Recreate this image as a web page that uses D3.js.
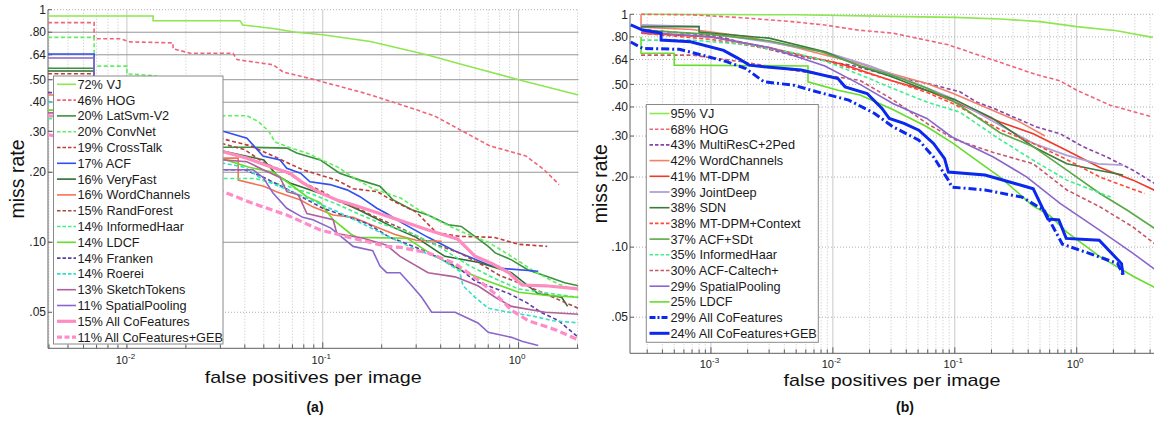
<!DOCTYPE html>
<html><head><meta charset="utf-8">
<script src="https://cdn.jsdelivr.net/npm/d3@7"></script>
<style>body{margin:0;background:#fff}svg{display:block}text{font-family:"Liberation Sans",Arial,sans-serif}</style>
</head><body><svg id="c" width="1156" height="421"></svg>
<script>
// ---------------- DATA ----------------
const yTicks = [1, 0.8, 0.64, 0.5, 0.4, 0.3, 0.2, 0.1, 0.05];
const yTickLabels = ["1", ".80", ".64", ".50", ".40", ".30", ".20", ".10", ".05"];
const xTicksA = [0.01, 0.1, 1];
const xTickExpA = ["-2", "-1", "0"];
const xTicksB = [0.001, 0.01, 0.1, 1];
const xTickExpB = ["-3", "-2", "-1", "0"];

const labelsA = ["72% VJ","46% HOG","20% LatSvm-V2","20% ConvNet","19% CrossTalk","17% ACF","16% VeryFast","16% WordChannels","15% RandForest","14% InformedHaar","14% LDCF","14% Franken","14% Roerei","13% SketchTokens","11% SpatialPooling","15% All CoFeatures","11% All CoFeatures+GEB"];
const labelsB = ["95% VJ","68% HOG","43% MultiResC+2Ped","42% WordChannels","41% MT-DPM","39% JointDeep","38% SDN","38% MT-DPM+Context","37% ACF+SDt","35% InformedHaar","30% ACF-Caltech+","29% SpatialPooling","25% LDCF","29% All CoFeatures","24% All CoFeatures+GEB"];

// panel (a): [fppi, miss rate]
const A_VJ = [[0.00395,0.94],[0.0136,0.94],[0.0136,0.897],[0.0378,0.897],[0.039,0.86],[0.0557,0.83],[0.073,0.80],[0.1,0.78],[0.175,0.73],[0.34,0.64],[0.52,0.58],[1.0,0.50],[2.02,0.43]];
const A_HOG = [[0.00395,0.88],[0.0068,0.88],[0.0068,0.75],[0.0092,0.75],[0.0104,0.727],[0.0172,0.72],[0.0172,0.68],[0.021,0.65],[0.0348,0.65],[0.0365,0.61],[0.0557,0.58],[0.0627,0.54],[0.091,0.50],[0.16,0.44],[0.23,0.40],[0.37,0.35],[0.52,0.30],[0.71,0.26],[1.09,0.235],[1.35,0.205],[1.61,0.177]];
const A_LatSvm = [[0.00395,0.56],[0.0068,0.56],[0.0068,0.40],[0.031,0.256],[0.044,0.256],[0.0655,0.254],[0.0736,0.242],[0.097,0.226],[0.122,0.198],[0.155,0.185],[0.196,0.174],[0.229,0.152],[0.285,0.138],[0.345,0.131],[0.437,0.119],[0.51,0.117],[0.70,0.096],[0.76,0.09],[0.92,0.084],[1.12,0.076],[1.41,0.071],[1.72,0.067],[2.02,0.065]];
const A_ConvNet = [[0.00395,0.76],[0.0068,0.76],[0.0068,0.572],[0.01,0.572],[0.01,0.53],[0.014,0.52],[0.031,0.35],[0.041,0.35],[0.047,0.33],[0.053,0.30],[0.057,0.27],[0.068,0.255],[0.085,0.24],[0.1,0.225],[0.12,0.21],[0.143,0.19],[0.18,0.17],[0.25,0.155],[0.3,0.14],[0.38,0.125],[0.5,0.112],[0.7,0.10],[0.9,0.088],[1.2,0.075],[1.6,0.066],[2.02,0.062]];
const A_CrossTalk = [[0.00395,0.53],[0.0068,0.53],[0.0068,0.42],[0.03,0.28],[0.0426,0.26],[0.0557,0.235],[0.079,0.205],[0.118,0.185],[0.143,0.17],[0.19,0.165],[0.23,0.15],[0.3,0.135],[0.38,0.11],[0.5,0.106],[0.75,0.105],[1.0,0.098],[1.4,0.096]];
const A_ACF = [[0.00395,0.645],[0.0068,0.645],[0.0068,0.45],[0.031,0.30],[0.041,0.28],[0.0495,0.235],[0.0605,0.226],[0.0655,0.208],[0.077,0.198],[0.086,0.182],[0.109,0.177],[0.133,0.168],[0.155,0.157],[0.189,0.14],[0.212,0.133],[0.25,0.122],[0.345,0.105],[0.47,0.092],[0.7,0.08],[0.85,0.077],[1.26,0.075]];
const A_VeryFast = [[0.00395,0.545],[0.0068,0.545],[0.0068,0.40],[0.03,0.248],[0.05,0.226],[0.058,0.195],[0.068,0.18],[0.109,0.157],[0.155,0.137],[0.234,0.115],[0.3,0.105],[0.42,0.087],[0.62,0.082],[0.92,0.074],[1.26,0.06],[1.66,0.058],[1.78,0.053]];
const A_WordChannels = [[0.00395,0.43],[0.0068,0.43],[0.0068,0.33],[0.031,0.23],[0.037,0.23],[0.037,0.185],[0.05,0.174],[0.058,0.165],[0.077,0.152],[0.089,0.142],[0.113,0.131],[0.143,0.128],[0.18,0.118],[0.234,0.108],[0.3,0.102],[0.405,0.101]];
const A_RandForest = [[0.00395,0.40],[0.0068,0.40],[0.0068,0.33],[0.031,0.265],[0.04,0.25],[0.05,0.22],[0.065,0.20],[0.08,0.18],[0.1,0.165],[0.12,0.15],[0.15,0.14],[0.18,0.13],[0.25,0.115],[0.35,0.10],[0.5,0.09],[0.65,0.08],[0.8,0.072],[1.1,0.065],[1.5,0.058],[2.02,0.052]];
const A_InformedHaar = [[0.00395,0.34],[0.0068,0.34],[0.0068,0.28],[0.031,0.188],[0.045,0.188],[0.065,0.175],[0.09,0.16],[0.12,0.145],[0.16,0.13],[0.2,0.12],[0.28,0.11],[0.4,0.095],[0.55,0.08],[0.75,0.07],[1.0,0.063],[1.5,0.06],[2.02,0.058]];
const A_LDCF = [[0.00395,0.37],[0.0068,0.37],[0.0068,0.30],[0.03,0.23],[0.042,0.21],[0.056,0.2],[0.07,0.175],[0.083,0.157],[0.097,0.148],[0.113,0.125],[0.14,0.108],[0.15,0.105],[0.27,0.104],[0.35,0.09],[0.52,0.075],[0.7,0.068],[1.0,0.061],[1.4,0.059],[2.02,0.058]];
const A_Franken = [[0.00395,0.44],[0.0068,0.44],[0.0068,0.33],[0.03,0.205],[0.04,0.205],[0.05,0.19],[0.065,0.17],[0.08,0.155],[0.1,0.14],[0.13,0.13],[0.17,0.12],[0.22,0.105],[0.3,0.095],[0.4,0.085],[0.5,0.077],[0.6,0.068],[0.7,0.065],[0.9,0.06],[1.1,0.055],[1.3,0.05],[1.6,0.046],[2.02,0.039]];
const A_Roerei = [[0.00395,0.40],[0.0068,0.40],[0.0068,0.32],[0.03,0.22],[0.04,0.21],[0.05,0.185],[0.07,0.165],[0.09,0.15],[0.12,0.135],[0.16,0.12],[0.22,0.105],[0.3,0.093],[0.4,0.085],[0.5,0.075],[0.52,0.065],[0.6,0.058],[0.7,0.052],[0.9,0.05],[1.2,0.048],[1.5,0.046],[2.02,0.045]];
const A_SketchTokens = [[0.00395,0.36],[0.0068,0.36],[0.0068,0.30],[0.031,0.226],[0.041,0.222],[0.0496,0.205],[0.0605,0.19],[0.0655,0.165],[0.075,0.16],[0.083,0.133],[0.113,0.125],[0.118,0.109],[0.161,0.104],[0.212,0.097],[0.248,0.087],[0.345,0.074],[0.474,0.071],[0.62,0.065],[0.76,0.058],[0.92,0.053],[1.37,0.05],[2.02,0.049]];
const A_SpatialPooling = [[0.00395,0.62],[0.0068,0.62],[0.0068,0.38],[0.031,0.205],[0.044,0.205],[0.0496,0.19],[0.0557,0.163],[0.0655,0.14],[0.079,0.128],[0.089,0.125],[0.11,0.115],[0.143,0.096],[0.18,0.092],[0.196,0.079],[0.212,0.074],[0.248,0.074],[0.285,0.065],[0.32,0.058],[0.36,0.05],[0.474,0.05],[0.62,0.045],[0.70,0.041],[0.92,0.039],[1.04,0.0375],[1.26,0.036]];
const A_AllCo = [[0.00395,0.35],[0.0068,0.34],[0.01,0.32],[0.02,0.28],[0.031,0.245],[0.041,0.23],[0.054,0.211],[0.068,0.198],[0.079,0.18],[0.097,0.163],[0.118,0.152],[0.143,0.145],[0.18,0.136],[0.229,0.127],[0.345,0.113],[0.49,0.103],[0.60,0.087],[0.73,0.081],[0.89,0.074],[1.04,0.0655],[1.37,0.065],[2.02,0.063]];
const A_AllCoGEB = [[0.00395,0.29],[0.01,0.25],[0.02,0.195],[0.031,0.165],[0.044,0.147],[0.0655,0.131],[0.097,0.113],[0.143,0.104],[0.212,0.096],[0.25,0.095],[0.345,0.09],[0.474,0.081],[0.62,0.069],[0.76,0.06],[0.92,0.051],[1.12,0.046],[1.55,0.042],[2.02,0.038]];

// panel (b)
const B_VJ = [[2.67e-4,1.0],[0.005,0.995],[0.03,0.98],[0.1,0.97],[0.235,0.955],[0.5,0.93],[1.0,0.885],[2.13,0.85],[4.2,0.796]];
const B_HOG = [[2.67e-4,1.0],[6.95e-4,0.995],[1.79e-3,0.967],[4.6e-3,0.93],[8.6e-3,0.9],[0.0159,0.856],[0.031,0.83],[0.088,0.74],[0.207,0.636],[0.47,0.55],[0.73,0.518],[1.0,0.472],[1.88,0.407],[4.12,0.363]];
const B_MultiResC = [[2.67e-4,0.86],[1.08e-3,0.81],[4.6e-3,0.668],[6.8e-3,0.646],[0.015,0.60],[0.031,0.54],[0.059,0.505],[0.11,0.465],[0.151,0.42],[0.207,0.395],[0.322,0.357],[0.47,0.328],[0.73,0.307],[1.13,0.27],[1.76,0.244],[2.9,0.214],[4.4,0.187]];
const B_WordChannels = [[2.67e-4,1.0],[2.67e-4,0.88],[7e-4,0.86],[2e-3,0.80],[5e-3,0.72],[8.6e-3,0.668],[0.0165,0.615],[0.03,0.557],[0.059,0.505],[0.097,0.457],[0.151,0.414],[0.235,0.375],[0.34,0.345],[0.55,0.30]];
const B_MTDPM = [[2.67e-4,0.83],[1e-3,0.80],[3e-3,0.72],[0.006,0.66],[0.012,0.61],[0.03,0.52],[0.06,0.47],[0.1,0.42],[0.235,0.345],[0.44,0.307],[0.83,0.26],[1.55,0.22],[2.9,0.194],[4.4,0.175]];
const B_JointDeep = [[2.67e-4,0.90],[8e-4,0.885],[8e-4,0.84],[3e-3,0.76],[8.6e-3,0.69],[0.02,0.6],[0.05,0.5],[0.1,0.43],[0.2,0.35],[0.44,0.279],[0.83,0.248],[1.5,0.228],[2.4,0.225]];
const B_SDN = [[2.67e-4,0.885],[8e-4,0.885],[8e-4,0.84],[3e-3,0.79],[8.6e-3,0.69],[0.0165,0.6],[0.03,0.54],[0.06,0.47],[0.1,0.43],[0.2,0.36],[0.44,0.27],[0.83,0.228],[1.5,0.214],[2.4,0.204]];
const B_MTDPMCtx = [[2.67e-4,0.83],[1e-3,0.78],[3e-3,0.71],[0.008,0.64],[0.015,0.58],[0.03,0.52],[0.06,0.46],[0.1,0.41],[0.235,0.32],[0.44,0.279],[0.8,0.24],[1.55,0.2],[3.6,0.17]];
const B_ACFSDt = [[2.67e-4,0.855],[1e-3,0.82],[3e-3,0.77],[8e-3,0.69],[0.017,0.6],[0.03,0.55],[0.06,0.48],[0.1,0.42],[0.235,0.31],[0.44,0.27],[0.83,0.214],[1.55,0.17],[2.6,0.144],[4.4,0.12]];
const B_InformedHaar = [[2.67e-4,0.775],[7e-4,0.775],[2e-3,0.74],[5e-3,0.68],[8.6e-3,0.63],[0.0167,0.55],[0.031,0.48],[0.059,0.42],[0.11,0.38],[0.235,0.29],[0.44,0.236],[0.83,0.194],[1.9,0.164]];
const B_ACFCaltech = [[2.67e-4,0.668],[7e-4,0.668],[1.8e-3,0.625],[4.6e-3,0.576],[8.6e-3,0.548],[0.0167,0.52],[0.031,0.43],[0.059,0.34],[0.1,0.29],[0.207,0.255],[0.44,0.228],[0.83,0.176],[1.55,0.149],[2.9,0.122],[4.4,0.103]];
const B_SpatialPooling = [[2.67e-4,0.84],[1e-3,0.80],[3e-3,0.72],[8.6e-3,0.6],[0.0167,0.5],[0.031,0.414],[0.059,0.357],[0.094,0.298],[0.207,0.244],[0.39,0.2],[0.73,0.154],[1.55,0.118],[2.9,0.094],[4.4,0.08]];
const B_LDCF = [[2.67e-4,0.80],[2.67e-4,0.68],[5e-4,0.68],[5e-4,0.605],[6.25e-3,0.6],[6.25e-3,0.513],[0.011,0.472],[0.0167,0.45],[0.031,0.39],[0.059,0.329],[0.097,0.279],[0.151,0.236],[0.235,0.2],[0.44,0.15],[0.6,0.137],[0.83,0.116],[1.55,0.091],[2.9,0.075],[4.4,0.067]];
const B_AllCo = [[2.2e-4,0.76],[2.75e-4,0.714],[5.5e-4,0.707],[8.4e-4,0.668],[1.36e-3,0.625],[1.93e-3,0.585],[2.72e-3,0.513],[4.76e-3,0.496],[8.3e-3,0.457],[0.0135,0.428],[0.022,0.375],[0.031,0.329],[0.0507,0.288],[0.0669,0.244],[0.0885,0.194],[0.095,0.181],[0.177,0.176],[0.356,0.164],[0.54,0.144],[0.763,0.103],[1.43,0.092],[2.17,0.085],[2.4,0.076]];
const B_AllCoGEB = [[2.2e-4,0.9],[2.75e-4,0.856],[3.9e-4,0.83],[3.9e-4,0.775],[6.8e-4,0.762],[1.27e-3,0.70],[1.67e-3,0.647],[2.06e-3,0.605],[2.72e-3,0.595],[5.5e-3,0.576],[0.011,0.53],[0.0126,0.488],[0.0191,0.457],[0.0253,0.394],[0.029,0.357],[0.0383,0.34],[0.0507,0.318],[0.0669,0.279],[0.0825,0.24],[0.0885,0.21],[0.177,0.204],[0.356,0.184],[0.44,0.178],[0.58,0.132],[0.713,0.131],[0.82,0.109],[1.53,0.107],[2.33,0.085],[2.4,0.076]];

const seriesA = [A_VJ,A_HOG,A_LatSvm,A_ConvNet,A_CrossTalk,A_ACF,A_VeryFast,A_WordChannels,A_RandForest,A_InformedHaar,A_LDCF,A_Franken,A_Roerei,A_SketchTokens,A_SpatialPooling,A_AllCo,A_AllCoGEB];
const seriesB = [B_VJ,B_HOG,B_MultiResC,B_WordChannels,B_MTDPM,B_JointDeep,B_SDN,B_MTDPMCtx,B_ACFSDt,B_InformedHaar,B_ACFCaltech,B_SpatialPooling,B_LDCF,B_AllCo,B_AllCoGEB];

// ---------------- STYLES ----------------
const S = "", D = "4,2.5", TD = "7,3.5", DD = "8,3,2,3";
const stylesA = [
  ["#8ee650",S,1.6],["#f0647a",D,1.6],["#3c913c",S,1.6],["#5ef05e",D,1.6],["#c03a3a",D,1.6],
  ["#3050f0",S,1.6],["#2d6e30",S,1.6],["#f27552",S,1.6],["#a84848",D,1.6],["#40ee88",D,1.6],
  ["#66dd2a",S,1.6],["#5a3fa8",D,1.6],["#30e0c8",D,1.6],["#b0609c",S,1.6],["#8a66cc",S,1.6],
  ["#ff8cc0",S,3.2],["#ff8cc8",TD,3.2]];
const stylesB = [
  ["#8ee650",S,1.6],["#f0647a",D,1.6],["#8844a8",D,1.6],["#f4806a",S,1.6],["#ee3a2a",S,1.6],
  ["#b0a0d8",S,1.8],["#3a7a3a",S,1.6],["#ff4a3a",D,1.6],["#5aa845",S,1.6],["#40ee90",D,1.6],
  ["#c85868",D,1.6],["#8a66cc",S,1.6],["#66dd2a",S,1.6],["#0a28ee",DD,3],["#0a28ee",S,3]];

const svg = d3.select("#c");

function panel(cfg) {
  const x = d3.scaleLog().domain(cfg.xdom).range([cfg.left, cfg.right]);
  const y = d3.scaleLog().domain([0.035, 1]).range([cfg.bottom, cfg.top]);
  const g = svg.append("g");
  const clipId = "clip" + cfg.id;
  svg.append("clipPath").attr("id", clipId).append("rect")
    .attr("x", cfg.left).attr("y", cfg.top - 2).attr("width", cfg.right - cfg.left).attr("height", cfg.bottom - cfg.top + 2);

  // vertical grid (minor + major)
  const [lo, hi] = cfg.xdom;
  const vals = [];
  for (let e = Math.floor(Math.log10(lo)); e <= Math.ceil(Math.log10(hi)); e++)
    for (let k = 1; k <= 9; k++) { const v = k * Math.pow(10, e); if (v >= lo && v <= hi) vals.push([v, k === 1]); }
  g.selectAll("line.vg").data(vals).enter().append("line")
    .attr("x1", d => x(d[0])).attr("x2", d => x(d[0]))
    .attr("y1", cfg.top).attr("y2", cfg.bottom)
    .attr("stroke", d => d[1] ? "#c8c8c8" : "#c4c4c4")
    .attr("stroke-dasharray", d => d[1] ? null : "1,2").attr("stroke-width", 1);
  // horizontal grid
  g.selectAll("line.hg").data(yTicks).enter().append("line")
    .attr("x1", cfg.left).attr("x2", cfg.right)
    .attr("y1", d => y(d)).attr("y2", d => y(d))
    .attr("stroke", d => cfg.solidH && d !== 0.05 && d !== 1 ? "#969696" : "#b0b0b0")
    .attr("stroke-dasharray", d => cfg.solidH && d !== 0.05 && d !== 1 ? null : "1,2")
    .attr("stroke-width", 1);

  // axes lines
  g.append("line").attr("x1", cfg.left).attr("x2", cfg.left).attr("y1", cfg.top).attr("y2", cfg.bottom).attr("stroke", "#606060");
  g.append("line").attr("x1", cfg.left).attr("x2", cfg.right).attr("y1", cfg.bottom).attr("y2", cfg.bottom).attr("stroke", "#606060");
  // x ticks
  g.selectAll("line.xt").data(vals).enter().append("line")
    .attr("x1", d => x(d[0])).attr("x2", d => x(d[0]))
    .attr("y1", cfg.bottom).attr("y2", d => cfg.bottom - (d[1] ? 6 : 4))
    .attr("stroke", "#606060");
  // y ticks
  g.selectAll("line.yt").data(yTicks).enter().append("line")
    .attr("x1", cfg.left).attr("x2", cfg.left + 4)
    .attr("y1", d => y(d)).attr("y2", d => y(d)).attr("stroke", "#606060");

  // y tick labels
  g.selectAll("text.yl").data(yTicks).enter().append("text")
    .attr("x", cfg.left - 2).attr("y", d => y(d)).attr("dy", "0.35em")
    .attr("text-anchor", "end").attr("font-size", 12).attr("fill", "#222")
    .text((d, i) => yTickLabels[i]);
  // x tick labels 10^k
  cfg.xticks.forEach((t, i) => {
    const tx = g.append("text").attr("x", x(t) - 1.5).attr("y", cfg.xlabY)
      .attr("text-anchor", "middle").attr("font-size", 11).attr("fill", "#222");
    tx.append("tspan").text("10");
    tx.append("tspan").attr("font-size", 8).attr("dy", -5).text(cfg.xexp[i]);
  });

  // curves
  const line = d3.line().x(d => x(d[0])).y(d => y(d[1]));
  const cg = g.append("g").attr("clip-path", `url(#${clipId})`);
  cfg.series.forEach((s, i) => {
    const st = cfg.styles[i];
    cg.append("path").attr("d", line(s)).attr("fill", "none")
      .attr("stroke", st[0]).attr("stroke-width", st[2])
      .attr("stroke-dasharray", st[1] || null)
      .attr("stroke-linejoin", "miter");
  });

  // legend
  const L = cfg.legend;
  const lg = g.append("g");
  lg.append("rect").attr("x", L.x).attr("y", L.y).attr("width", L.w).attr("height", L.h)
    .attr("fill", "#fff").attr("stroke", "#8a8a8a").attr("stroke-width", 1);
  cfg.labels.forEach((lab, i) => {
    const cy = L.first + i * L.step;
    const st = cfg.styles[i];
    lg.append("line").attr("x1", L.lx1).attr("x2", L.lx2).attr("y1", cy).attr("y2", cy)
      .attr("stroke", st[0]).attr("stroke-width", st[2])
      .attr("stroke-dasharray", st[1] ? (st[2] > 2 ? (st[1] === DD ? "6,2,2,2" : "5,2.5") : "3.5,2") : null);
    lg.append("text").attr("x", L.tx).attr("y", cy).attr("dy", "0.36em")
      .attr("font-size", 12.7).attr("fill", "#1a1a1a").text(lab);
  });

  // axis titles
  g.append("text").attr("transform", `translate(${cfg.ylabX},${(cfg.top + cfg.bottom) / 2}) rotate(-90)`)
    .attr("text-anchor", "middle").attr("dy", "0.35em").attr("font-size", 19.5).attr("fill", "#111").text("miss rate");
  g.append("text").attr("x", (cfg.left + cfg.right) / 2).attr("y", cfg.xtitleY)
    .attr("text-anchor", "middle").attr("font-size", 17).attr("fill", "#111")
    .attr("textLength", 217).attr("lengthAdjust", "spacingAndGlyphs").text("false positives per image");
  g.append("text").attr("x", cfg.capX).attr("y", 412)
    .attr("text-anchor", "middle").attr("font-size", 14).attr("font-weight", "bold").attr("fill", "#111").text(cfg.caption);
}

panel({
  id: "a", left: 48, right: 578.5, top: 9.7, bottom: 348.3,
  xdom: [Math.pow(10, -2.403), Math.pow(10, 0.306)], solidH: true,
  xticks: xTicksA, xexp: xTickExpA, xlabY: 364.3, xtitleY: 382.5, ylabX: 17, capX: 315, caption: "(a)",
  series: seriesA, styles: stylesA, labels: labelsA,
  legend: { x: 53.5, y: 76, w: 169.5, h: 268, first: 84.3, step: 15.8, lx1: 57, lx2: 76, tx: 77.5 }
});
panel({
  id: "b", left: 630, right: 1154, top: 14.3, bottom: 353.3,
  xdom: [Math.pow(10, -3.664), Math.pow(10, 0.634)], solidH: false,
  xticks: xTicksB, xexp: xTickExpB, xlabY: 368, xtitleY: 386.3, ylabX: 600, capX: 905, caption: "(b)",
  series: seriesB, styles: stylesB, labels: labelsB,
  legend: { x: 646.3, y: 104.5, w: 172, h: 237.8, first: 113.5, step: 15.7, lx1: 649.5, lx2: 669.5, tx: 670.5 }
});
</script></body></html>
